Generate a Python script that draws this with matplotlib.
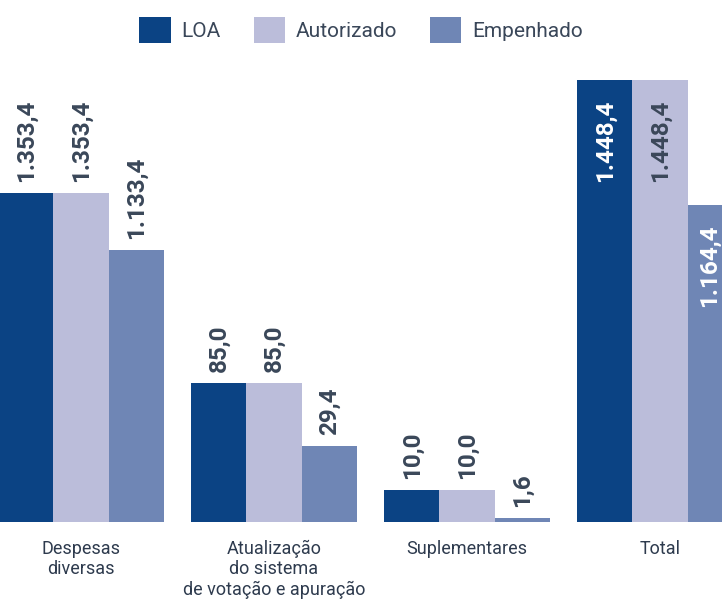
import numpy as np
import matplotlib.pyplot as plt
from matplotlib.patches import Patch

categories = ["Despesas\ndiversas",
              "Atualização\ndo sistema\nde votação e apuração",
              "Suplementares", "Total"]
series = ["LOA", "Autorizado", "Empenhado"]
loa = [1353.4, 85.0, 10.0, 1448.4]
autorizado = [1353.4, 85.0, 10.0, 1448.4]
empenhado = [1133.4, 29.4, 1.6, 1164.4]
value_labels = {
    "LOA": ["1.353,4", "85,0", "10,0", "1.448,4"],
    "Autorizado": ["1.353,4", "85,0", "10,0", "1.448,4"],
    "Empenhado": ["1.133,4", "29,4", "1,6", "1.164,4"],
}

# The source graphic uses an uneven, hand-drawn value axis: knots of that scale
scale_values = np.array([0, 1.6, 10, 29.4, 85, 1133.4, 1164.4, 1353.4, 1448.4, 2000])
scale_levels = np.array([0, 4, 32, 76, 139, 272, 317, 329, 442, 600], dtype=float)


def forward(v):
    return np.interp(v, scale_values, scale_levels)


def inverse(h):
    return np.interp(h, scale_levels, scale_values)


colors = {"LOA": "#0b4384", "Autorizado": "#bbbdda", "Empenhado": "#6f86b5"}
text_dark = "#3a4759"
label_dark = "#2e3b4e"

plt.rcParams['font.family'] = ['Roboto', 'DejaVu Sans']

fig = plt.figure(figsize=(7.22, 5.99), dpi=100)
ax = fig.add_axes([0, 77 / 599, 1, 452 / 599])
ax.set_yscale('function', functions=(forward, inverse))

w = 0.285
x = np.arange(len(categories))
data = {"LOA": loa, "Autorizado": autorizado, "Empenhado": empenhado}
offsets = {"LOA": -w, "Autorizado": 0.0, "Empenhado": w}

for s in series:
    ax.bar(x + offsets[s], data[s], width=w, color=colors[s], linewidth=0)

for s in series:
    for i, v in enumerate(data[s]):
        xi = x[i] + offsets[s]
        if categories[i] == "Total":
            col = text_dark if s == "Autorizado" else "white"
            dx = -4 if s == "Empenhado" else 0
            ax.annotate(value_labels[s][i], (xi, v), xytext=(dx, -14),
                        textcoords='offset points', rotation=90,
                        ha='center', va='top', fontsize=17.5,
                        fontweight='bold', color=col)
        else:
            ax.annotate(value_labels[s][i], (xi, v), xytext=(0, 8),
                        textcoords='offset points', rotation=90,
                        ha='center', va='bottom', fontsize=17.5,
                        fontweight='bold', color=text_dark)

ax.set_xlim(-81 / 193, (722 - 81) / 193)
ax.set_ylim(0, inverse(452))
ax.set_xticks(x)
ax.set_xticklabels(categories, fontsize=13, color=label_dark, linespacing=1.15)
ax.tick_params(axis='x', length=0, pad=13)
ax.set_yticks([])
for sp in ax.spines.values():
    sp.set_visible(False)

handles = [Patch(facecolor=colors[s], edgecolor='none', label=s) for s in series]
leg = fig.legend(handles=handles, loc='center', bbox_to_anchor=(0.5, 1 - 30 / 599),
                 ncol=3, frameon=False, fontsize=15, handlelength=1.5,
                 handleheight=1.5, handletextpad=0.5, columnspacing=1.6)
for t in leg.get_texts():
    t.set_color(text_dark)

fig.savefig("out.png", dpi=100)
